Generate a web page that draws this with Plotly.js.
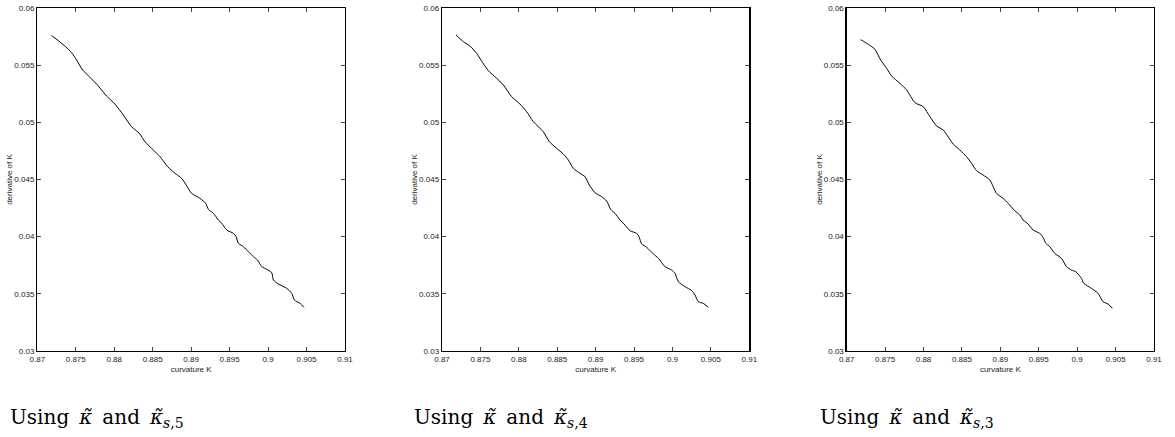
<!DOCTYPE html>
<html>
<head>
<meta charset="utf-8">
<script src="https://cdn.plot.ly/plotly-3.0.1.min.js"></script>
<style>html,body{margin:0;padding:0;background:#fff;}</style>
</head>
<body>
<div id="chart" style="width:1175px;height:437px;"></div>
<script>
// Panel 1: Using kappa~ and kappa~_{s,5}
const curv5 = [0.87186,0.87273,0.87368,0.87446,0.87511,0.87589,0.87685,0.87793,0.87901,0.88009,0.88118,0.88226,0.88326,0.88400,0.88508,0.88595,0.88695,0.88791,0.88877,0.88943,0.89006,0.89115,0.89189,0.89224,0.89289,0.89354,0.89398,0.89463,0.89549,0.89584,0.89614,0.89679,0.89744,0.89809,0.89861,0.89917,0.89983,0.90048,0.90069,0.90134,0.90243,0.90308,0.90342,0.90416,0.90466];
const deriv5 = [0.05758,0.05714,0.05662,0.05609,0.05545,0.05458,0.05394,0.05318,0.05230,0.05160,0.05064,0.04962,0.04904,0.04831,0.04758,0.04700,0.04612,0.04554,0.04510,0.04443,0.04379,0.04335,0.04292,0.04239,0.04204,0.04146,0.04117,0.04058,0.04029,0.04000,0.03942,0.03913,0.03869,0.03825,0.03796,0.03738,0.03714,0.03685,0.03621,0.03586,0.03548,0.03504,0.03446,0.03417,0.03382];

// Panel 2: Using kappa~ and kappa~_{s,4}
const curv4 = [0.87182,0.87278,0.87373,0.87451,0.87529,0.87603,0.87711,0.87798,0.87907,0.88015,0.88102,0.88189,0.88319,0.88397,0.88492,0.88579,0.88644,0.88709,0.88796,0.88861,0.88918,0.88991,0.89078,0.89143,0.89196,0.89252,0.89317,0.89369,0.89447,0.89534,0.89564,0.89599,0.89664,0.89751,0.89816,0.89902,0.89989,0.90033,0.90076,0.90163,0.90250,0.90293,0.90336,0.90401,0.90466];
const deriv4 = [0.05764,0.05706,0.05662,0.05603,0.05522,0.05452,0.05385,0.05327,0.05224,0.05160,0.05093,0.05006,0.04918,0.04831,0.04773,0.04723,0.04671,0.04598,0.04554,0.04525,0.04452,0.04385,0.04350,0.04312,0.04239,0.04204,0.04146,0.04111,0.04052,0.04029,0.04000,0.03936,0.03907,0.03849,0.03811,0.03738,0.03708,0.03679,0.03606,0.03563,0.03528,0.03490,0.03431,0.03417,0.03382];

// Panel 3: Using kappa~ and kappa~_{s,3}
const curv3 = [0.87182,0.87282,0.87368,0.87442,0.87520,0.87585,0.87693,0.87780,0.87888,0.87996,0.88083,0.88170,0.88256,0.88386,0.88473,0.88560,0.88625,0.88690,0.88776,0.88863,0.88950,0.89036,0.89101,0.89188,0.89253,0.89296,0.89361,0.89426,0.89513,0.89556,0.89591,0.89643,0.89708,0.89795,0.89860,0.89925,0.89982,0.90055,0.90086,0.90185,0.90272,0.90337,0.90402,0.90459];
const deriv3 = [0.05723,0.05682,0.05638,0.05545,0.05472,0.05405,0.05341,0.05283,0.05172,0.05137,0.05050,0.04968,0.04933,0.04810,0.04758,0.04700,0.04641,0.04577,0.04539,0.04496,0.04379,0.04335,0.04292,0.04227,0.04190,0.04146,0.04111,0.04058,0.04029,0.03994,0.03942,0.03913,0.03854,0.03811,0.03738,0.03708,0.03694,0.03636,0.03592,0.03548,0.03504,0.03431,0.03411,0.03373];

const SP = "\u2002";
const captions = [
  "Using" + SP + "<i>κ̃</i>" + SP + "and" + SP + "<i>κ̃</i><sub><i>s</i>,5</sub>",
  "Using" + SP + "<i>κ̃</i>" + SP + "and" + SP + "<i>κ̃</i><sub><i>s</i>,4</sub>",
  "Using" + SP + "<i>κ̃</i>" + SP + "and" + SP + "<i>κ̃</i><sub><i>s</i>,3</sub>"
];
const xTitle = "curvature K";
const yTitle = "derivative of K";
const xRange = [0.87, 0.91];
const yRange = [0.03, 0.06];

const W = 1175, H = 437;
const panelsPx = [[37.3, 345], [442, 749.3], [846.7, 1154]];
const yTopPx = 8, yBotPx = 351;
const captionXpx = [8, 412, 818];

const tickFont = {family: "Liberation Sans, Arial, sans-serif", size: 8, color: "#222"};
const series = [[curv5, deriv5], [curv4, deriv4], [curv3, deriv3]];

const data = series.map((s, i) => ({
  x: s[0], y: s[1], type: "scatter", mode: "lines",
  line: {color: "#000", width: 1, shape: "spline", smoothing: 0.6},
  xaxis: i === 0 ? "x" : "x" + (i + 1),
  yaxis: i === 0 ? "y" : "y" + (i + 1),
  hoverinfo: "skip"
}));

const layout = {
  width: W, height: H,
  margin: {l: 0, r: 0, t: 0, b: 0},
  paper_bgcolor: "#fff", plot_bgcolor: "#fff",
  showlegend: false,
  annotations: []
};

panelsPx.forEach((p, i) => {
  const sx = i === 0 ? "" : String(i + 1);
  layout["xaxis" + sx] = {
    domain: [p[0] / W, p[1] / W],
    range: xRange, dtick: 0.005, tick0: 0.87,
    showgrid: false, zeroline: false,
    showline: true, mirror: "ticks", linecolor: "#000", linewidth: 1.3,
    ticks: "inside", ticklen: 4, tickwidth: 1, tickcolor: "#444",
    tickfont: tickFont,
    title: {text: xTitle, font: tickFont, standoff: 3},
    anchor: "y" + sx, automargin: false, fixedrange: true
  };
  layout["yaxis" + sx] = {
    domain: [1 - yBotPx / H, 1 - yTopPx / H],
    range: yRange, dtick: 0.005, tick0: 0.03,
    showgrid: false, zeroline: false,
    showline: true, mirror: "ticks", linecolor: "#000", linewidth: 1.3,
    ticks: "inside", ticklen: 4, tickwidth: 1, tickcolor: "#444",
    tickfont: tickFont,
    title: {text: yTitle, font: tickFont, standoff: 0},
    anchor: "x" + sx, automargin: false, fixedrange: true
  };
  layout.annotations.push({
    text: captions[i], xref: "paper", yref: "paper",
    x: captionXpx[i] / W, y: 1 - 418 / H,
    xanchor: "left", yanchor: "middle", showarrow: false,
    font: {family: "DejaVu Serif, Liberation Serif, serif", size: 20, color: "#000"}
  });
});

Plotly.newPlot("chart", data, layout, {staticPlot: true, displayModeBar: false});
</script>
</body>
</html>
